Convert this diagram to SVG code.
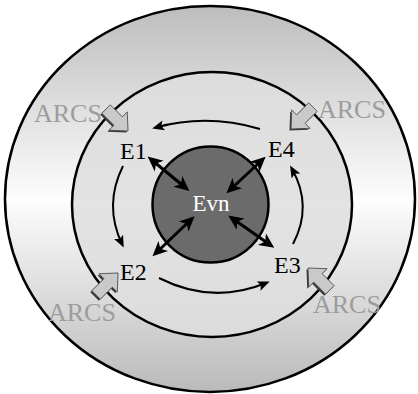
<svg xmlns="http://www.w3.org/2000/svg" width="418" height="394" viewBox="0 0 418 394">
<defs>
<linearGradient id="gOuter" x1="0" y1="0" x2="0" y2="1">
<stop offset="0" stop-color="#bdbdbd"/>
<stop offset="0.5" stop-color="#fdfdfd"/>
<stop offset="1" stop-color="#bababa"/>
</linearGradient>
<linearGradient id="gMid" x1="0" y1="0" x2="0" y2="1">
<stop offset="0" stop-color="#dcdcdc"/>
<stop offset="0.5" stop-color="#e3e3e3"/>
<stop offset="1" stop-color="#dcdcdc"/>
</linearGradient>
<marker id="thin" markerUnits="userSpaceOnUse" markerWidth="14" markerHeight="12" viewBox="0 -6 12 12" refX="8" refY="0" orient="auto" overflow="visible">
<path d="M0,-5 L12,0 L0,5 L2.5,0 z" fill="#000"/>
</marker>
<marker id="thick" markerUnits="userSpaceOnUse" markerWidth="18" markerHeight="16" viewBox="0 -8 16 16" refX="8" refY="0" orient="auto-start-reverse" overflow="visible">
<path d="M0,-7 L15,0 L0,7 L4,0 z" fill="#000"/>
</marker>
<path id="blk" d="M0,0 L-14,-13 L-14,-6 L-31,-6 L-31,6 L-14,6 L-14,13 z"/>
</defs>
<style>
.ring{stroke:#000;stroke-width:2.5}
.lbl{font-family:"Liberation Serif","Times New Roman",serif;font-size:24px;fill:#000}
.arcs{font-family:"Liberation Serif","Times New Roman",serif;font-size:26px;fill:#9c9c9c}
.evn{font-family:"Liberation Serif","Times New Roman",serif;font-size:23px;fill:#fff}
.cv{fill:none;stroke:#000;stroke-width:2;marker-end:url(#thin)}
.dbl{fill:none;stroke:#000;stroke-width:3;marker-start:url(#thick);marker-end:url(#thick)}
.shadow{fill:#3a3a3a}
.bfill{fill:#c9c9c9;stroke:#444;stroke-width:0.8}
</style>
<g id="outer"><ellipse cx="210" cy="199" rx="205" ry="193" fill="url(#gOuter)" class="ring"/></g>
<g id="middle"><ellipse cx="212" cy="204.5" rx="140" ry="132.5" fill="url(#gMid)" class="ring"/></g>
<g id="Evn">
<circle cx="210.5" cy="204.5" r="58" fill="#6b6b6b" class="ring"/>
<text class="evn" x="211" y="211" text-anchor="middle">Evn</text>
</g>
<g id="E1"><text class="lbl" x="120" y="159">E1</text></g>
<g id="E4"><text class="lbl" x="268" y="157">E4</text></g>
<g id="E2"><text class="lbl" x="120" y="280">E2</text></g>
<g id="E3"><text class="lbl" x="274" y="273">E3</text></g>
<g id="ARCS-tl">
<text class="arcs" x="34" y="122">ARCS</text>
<use href="#blk" class="shadow" transform="translate(126.5,132.5) rotate(45)"/>
<use href="#blk" class="bfill" transform="translate(128,131) rotate(45)"/>
</g>
<g id="ARCS-tr">
<text class="arcs" x="318" y="118">ARCS</text>
<use href="#blk" class="shadow" transform="translate(289.5,130.5) rotate(135)"/>
<use href="#blk" class="bfill" transform="translate(291,129) rotate(135)"/>
</g>
<g id="ARCS-bl">
<text class="arcs" x="48" y="321">ARCS</text>
<use href="#blk" class="shadow" transform="translate(116.5,274.5) rotate(-45)"/>
<use href="#blk" class="bfill" transform="translate(118,273) rotate(-45)"/>
</g>
<g id="ARCS-br">
<text class="arcs" x="313" y="313">ARCS</text>
<use href="#blk" class="shadow" transform="translate(306.5,269.5) rotate(-135)"/>
<use href="#blk" class="bfill" transform="translate(308,268) rotate(-135)"/>
</g>
<g id="connectors">
<path class="cv" d="M260,129 Q207,113.5 156,127.5"/>
<path class="cv" d="M123,166 Q103.5,205 122,244"/>
<path class="cv" d="M159,278 Q212,305 266,283"/>
<path class="cv" d="M293,244 Q313,206 292,169"/>
<line class="dbl" x1="153" y1="161" x2="184" y2="186.5"/>
<line class="dbl" x1="260.5" y1="161.5" x2="231.5" y2="188.5"/>
<line class="dbl" x1="157.5" y1="251.5" x2="189.5" y2="221"/>
<line class="dbl" x1="234" y1="219.5" x2="268.5" y2="243.8"/>
</g>
</svg>
